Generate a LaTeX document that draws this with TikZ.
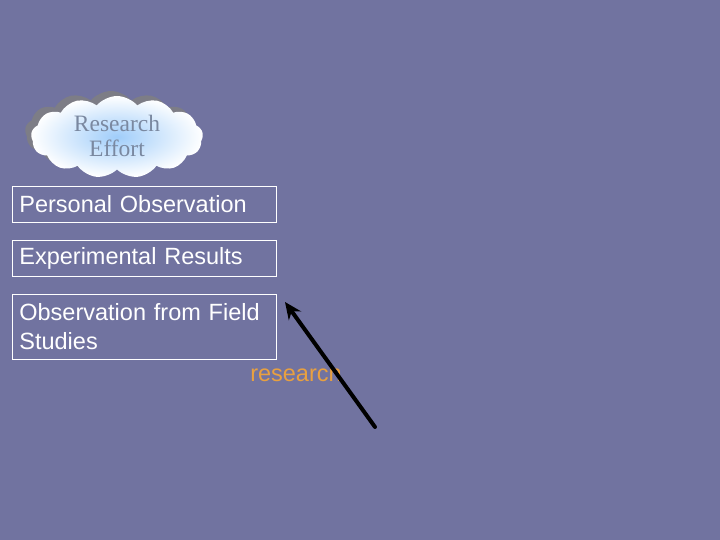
\documentclass[tikz,border=0pt]{standalone}
\usepackage{fontspec}
\setmainfont{Liberation Sans}
\newfontfamily\serifface{Liberation Serif}
\usetikzlibrary{shapes.symbols,arrows.meta}
\definecolor{bgc}{RGB}{113,115,160}
\definecolor{cloudtxt}{RGB}{122,136,160}
\definecolor{orangetxt}{RGB}{232,160,64}
\definecolor{cloudin}{RGB}{160,205,250}
\tikzset{
  obsbox/.style={draw=white, line width=0.8pt, anchor=north west, minimum width=264pt,
    text width=250pt, inner xsep=7pt, align=left, text=white,
    font=\fontsize{23.5}{29}\selectfont},
  cloudshape/.style={cloud, cloud puffs=13, cloud puff arc=100, aspect=2.2,
    minimum width=172pt, minimum height=82pt, inner sep=0pt},
}
\begin{document}
\begin{tikzpicture}[x=1pt,y=1pt]
\fill[bgc] (0,0) rectangle (720,540);
\useasboundingbox (0,0) rectangle (720,540);
% cloud shadow
\node[cloudshape, fill=gray!80!bgc] at (111,408) {};
\node[cloudshape, inner color=cloudin, outer color=white] (cloud) at (117,403) {};
\node[text=cloudtxt, align=center, font=\serifface\fontsize{23.5}{25}\selectfont] at (117,404) {Research\\Effort};
% boxes
\node[obsbox, minimum height=36pt, inner ysep=2pt] (b1) at (12,354) {Personal Observation};
\node[obsbox, minimum height=36pt, inner ysep=2pt] (b2) at (12,300) {Experimental Results};
\node[obsbox, minimum height=65pt, inner ysep=4pt] (b3) at (12,246) {Observation from Field\\Studies};
% label
\node[text=orangetxt, font=\fontsize{23.5}{26}\selectfont] (lbl) at (296,167) {research};
% arrow
\coordinate (as) at (375,113);
\coordinate (ae) at (285,238);
\draw[line width=4pt, line cap=round, -{Stealth[length=17pt,width=15pt]}] (as) -- (ae);
\end{tikzpicture}
\end{document}
